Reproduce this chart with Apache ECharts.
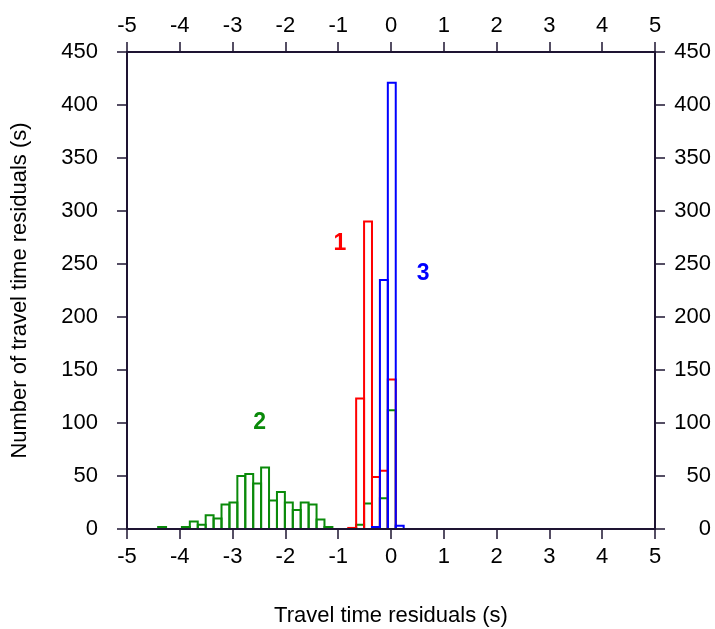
<!DOCTYPE html>
<html>
<head>
<meta charset="utf-8">
<script src="https://cdn.jsdelivr.net/npm/echarts@6/dist/echarts.min.js"></script>
<style>
	html, body { margin: 0; padding: 0; background: #fff; }
	#chart { width: 715px; height: 629px; }
</style>
</head>
<body>
<div id="chart"></div>
<script>
// 直方图的箱体左边界（s），箱宽 0.15
const BIN_WIDTH = 0.15;
const binStarts = [
	-4.41, -4.26, -4.11, -3.96, -3.81, -3.66, -3.51, -3.36, -3.21, -3.06,
	-2.91, -2.76, -2.61, -2.46, -2.31, -2.16, -2.01, -1.86, -1.71, -1.56,
	-1.41, -1.26, -1.11, -0.96, -0.81, -0.66, -0.51, -0.36, -0.21, -0.06,
	0.09
];
// 各组计数（null 表示该箱无数据）
const counts1 = [
	null, null, null, null, null, null, null, null, null, null,
	null, null, null, null, null, null, null, null, null, null,
	null, null, null, null, 1, 123, 290, 49, 55, 141,
	null
];
const counts2 = [
	2, null, null, 2, 7, 4, 13, 10, 23, 25,
	50, 52, 43, 58, 27, 35, 25, 18, 25, 23,
	9, 2, null, null, null, 4, 24, null, 29, 112,
	null
];
const counts3 = [
	null, null, null, null, null, null, null, null, null, null,
	null, null, null, null, null, null, null, null, null, null,
	null, null, null, null, null, null, null, 2, 235, 421,
	3
];
const xTicks = [-5, 5, 1];   // min, max, interval
const yTicks = [0, 450, 50];
// 组号标注位置 [x, y]
const label1 = [-0.97, 269];
const label2 = [-2.49, 100];
const label3 = [0.61, 241];

const FONT = "'Liberation Sans', Arial, Helvetica, sans-serif";
const AXIS_COLOR = '#1e1432';
const FONT_SIZE = 22;

function toData(counts) {
	const out = [];
	counts.forEach((c, i) => {
		if (c !== null) out.push([binStarts[i], c]);
	});
	return out;
}

function histSeries(name, counts, color, pos) {
	return {
		name: name,
		type: 'custom',
		clip: false,
		encode: { x: 0, y: 1 },
		data: toData(counts),
		renderItem: (params, api) => {
			const x0 = api.value(0);
			const v = api.value(1);
			const p0 = api.coord([x0, v]);
			const p1 = api.coord([x0 + BIN_WIDTH, 0]);
			return {
				type: 'rect',
				shape: { x: p0[0], y: p0[1], width: p1[0] - p0[0], height: p1[1] - p0[1] },
				style: { fill: 'none', stroke: color, lineWidth: 2 }
			};
		},
		markPoint: {
			symbol: 'circle',
			symbolSize: 0,
			label: {
				show: true,
				position: 'inside',
				formatter: name,
				color: color,
				fontSize: 23,
				fontWeight: 'bold',
				fontFamily: FONT
			},
			data: [{ coord: pos }]
		}
	};
}

function labelOpt(margin, extra) {
	return Object.assign({ color: '#000', fontSize: FONT_SIZE, fontFamily: FONT, margin: margin }, extra || {});
}

function xAxisOpt(position, extra) {
	return Object.assign({
		type: 'value',
		position: position,
		min: xTicks[0],
		max: xTicks[1],
		interval: xTicks[2],
		z: 5,
		axisLine: { show: true, onZero: false, lineStyle: { color: AXIS_COLOR, width: 2 } },
		axisTick: { show: true, inside: false, length: 10, lineStyle: { color: AXIS_COLOR, width: 1.5 } },
		axisLabel: labelOpt(17),
		splitLine: { show: false }
	}, extra || {});
}

function yAxisOpt(position, extra) {
	return Object.assign({
		type: 'value',
		position: position,
		min: yTicks[0],
		max: yTicks[1],
		interval: yTicks[2],
		z: 5,
		axisLine: { show: true, onZero: false, lineStyle: { color: AXIS_COLOR, width: 2 } },
		axisTick: { show: true, inside: false, length: 10, lineStyle: { color: AXIS_COLOR, width: 1.5 } },
		axisLabel: labelOpt(29),
		splitLine: { show: false }
	}, extra || {});
}

const chart = echarts.init(document.getElementById('chart'));
chart.setOption({
	animation: false,
	backgroundColor: '#fff',
	grid: { left: 127, right: 60, top: 52, bottom: 100, containLabel: false, outerBoundsMode: 'none' },
	xAxis: [
		xAxisOpt('bottom', {
			name: 'Travel time residuals (s)',
			nameLocation: 'middle',
			nameGap: 76,
			nameTextStyle: { color: '#000', fontSize: FONT_SIZE, fontFamily: FONT }
		}),
		xAxisOpt('top', { axisLabel: labelOpt(15) })
	],
	yAxis: [
		yAxisOpt('left', {
			name: 'Number of travel time residuals (s)',
			nameLocation: 'middle',
			nameGap: 96,
			nameTextStyle: { color: '#000', fontSize: FONT_SIZE, fontFamily: FONT }
		}),
		yAxisOpt('right', { axisLabel: labelOpt(56, { align: 'right' }) })
	],
	series: [
		histSeries('2', counts2, '#0a8a0a', label2),
		histSeries('1', counts1, '#ff0000', label1),
		histSeries('3', counts3, '#0000ff', label3)
	]
});
</script>
</body>
</html>
